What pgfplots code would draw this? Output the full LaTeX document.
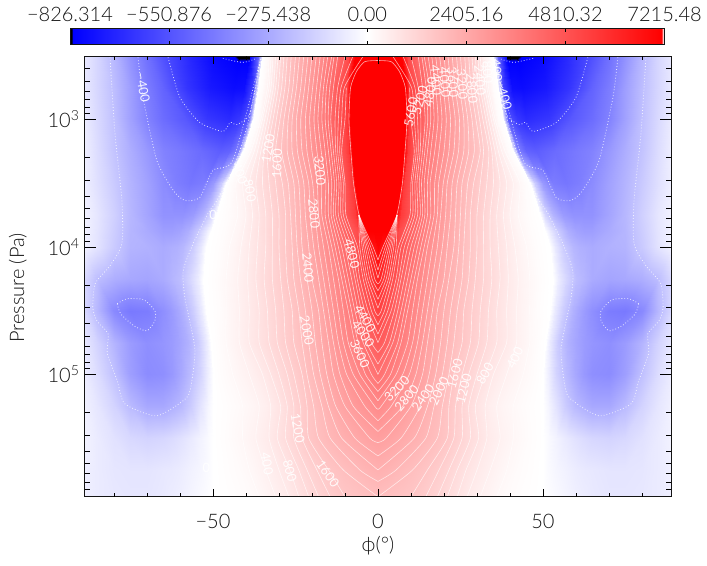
\documentclass[border=0pt]{standalone}
\usepackage{fontspec}
\setmainfont{Lato}[UprightFont=* Light]
\newfontfamily\lbf{Lato}
\usepackage{pgfplots}
\usepackage{pgfplotstable}
\pgfplotsset{compat=1.18}
\definecolor{axc}{gray}{0.08}
\pgfplotstableread[row sep=crcr]{
x p v\\
0 320 7140\\3 320 7140\\7 320 7140\\9 320 5000\\10 320 4700\\12 320 4100\\15 320 3600\\18 320 3100\\21 320 2630\\24 320 2170\\27 320 1680\\30 320 1100\\30.25 320 960\\30.5 320 900\\30.75 320 850\\31 320 800\\33.5 320 150\\35 320 0\\36.5 320 -500\\39 320 -826\\42 320 -826\\49.7 320 -790\\57.3 320 -690\\65 320 -560\\70 320 -460\\75 320 -350\\80 320 -230\\85 320 -130\\89 320 -70\\
0 562 7140\\4 562 7140\\8.5 562 7140\\9.5 562 5500\\10 562 5300\\12 562 4700\\15 562 3950\\18 562 3300\\21 562 2800\\24 562 2320\\27 562 1800\\30 562 1250\\30.6 562 1080\\31.25 562 930\\31.9 562 750\\32.5 562 570\\35 562 100\\36.5 562 0\\38 562 -600\\40.5 562 -770\\43.5 562 -780\\50.8 562 -740\\57.9 562 -650\\65 562 -500\\70 562 -420\\75 562 -310\\80 562 -210\\85 562 -130\\89 562 -70\\
0 1000 7140\\4 1000 7140\\8.5 1000 7140\\9.5 1000 5500\\10 1000 5300\\12 1000 4800\\15 1000 4020\\18 1000 3420\\21 1000 2960\\24 1000 2500\\27 1000 2030\\30 1000 1545\\31 1000 1370\\32 1000 1150\\33 1000 925\\34 1000 680\\36.5 1000 100\\38 1000 0\\39.5 1000 -540\\42 1000 -640\\45 1000 -680\\51.7 1000 -640\\58.3 1000 -540\\65 1000 -470\\70 1000 -400\\75 1000 -300\\80 1000 -200\\85 1000 -120\\89 1000 -60\\
0 1778 7140\\4 1778 7140\\8 1778 7140\\9 1778 5500\\10 1778 5100\\12 1778 4500\\15 1778 3800\\18 1778 3270\\21 1778 2870\\24 1778 2460\\27 1778 2060\\30 1778 1710\\31.75 1778 1440\\33.5 1778 1225\\35.25 1778 850\\37 1778 500\\39.5 1778 120\\41 1778 0\\42.5 1778 -400\\45 1778 -500\\48 1778 -520\\53.7 1778 -475\\59.3 1778 -435\\65 1778 -400\\70 1778 -330\\75 1778 -260\\80 1778 -190\\85 1778 -110\\89 1778 -50\\
0 3162 7140\\3.5 3162 7140\\7 3162 7140\\8 3162 5500\\10 3162 4800\\12 3162 4340\\15 3162 3600\\18 3162 3060\\21 3162 2600\\24 3162 2200\\27 3162 1820\\30 3162 1500\\33 3162 1200\\36 3162 900\\39 3162 600\\42 3162 300\\44.5 3162 100\\46 3162 0\\47.5 3162 -170\\50 3162 -330\\53 3162 -420\\57 3162 -440\\61 3162 -415\\65 3162 -370\\70 3162 -300\\75 3162 -240\\80 3162 -170\\85 3162 -100\\89 3162 -50\\
0 5623 7140\\2.5 5623 7140\\5.5 5623 7140\\7 5623 5500\\10 5623 4700\\12 5623 4300\\15 5623 3600\\18 5623 3000\\21 5623 2530\\24 5623 2130\\27 5623 1730\\30 5623 1400\\33.75 5623 1025\\37.5 5623 650\\41.25 5623 300\\45 5623 110\\47.5 5623 30\\49 5623 0\\50.5 5623 -130\\53 5623 -240\\56 5623 -320\\59 5623 -350\\62 5623 -350\\65 5623 -350\\70 5623 -290\\75 5623 -230\\80 5623 -150\\85 5623 -80\\89 5623 -40\\
0 7499 7140\\1.5 7499 7140\\3.5 7499 7140\\6.5 7499 5000\\10 7499 4400\\12 7499 4000\\15 7499 3400\\18 7499 2900\\21 7499 2465\\24 7499 2100\\27 7499 1715\\30 7499 1400\\34.1 7499 1000\\38.25 7499 650\\42.4 7499 290\\46.5 7499 100\\49 7499 25\\50.5 7499 0\\52 7499 -70\\54.5 7499 -170\\57.5 7499 -260\\60 7499 -295\\62.5 7499 -310\\65 7499 -310\\70 7499 -270\\75 7499 -235\\80 7499 -160\\85 7499 -85\\89 7499 -40\\
0 10000 7000\\1 10000 6700\\3 10000 6120\\6 10000 5060\\10 10000 4200\\12 10000 3800\\15 10000 3200\\18 10000 2800\\21 10000 2400\\24 10000 2070\\27 10000 1700\\30 10000 1400\\34.5 10000 950\\39 10000 600\\43.5 10000 270\\48 10000 80\\50.5 10000 15\\52 10000 0\\53.5 10000 -70\\56 10000 -160\\59 10000 -230\\61 10000 -250\\63 10000 -260\\65 10000 -270\\70 10000 -250\\75 10000 -240\\80 10000 -170\\85 10000 -90\\89 10000 -40\\
0 17783 6200\\3 17783 5340\\6 17783 4680\\8 17783 4200\\10 17783 3800\\12 17783 3400\\15 17783 3000\\18 17783 2600\\21 17783 2270\\24 17783 1950\\27 17783 1650\\30 17783 1360\\34.75 17783 980\\39.5 17783 600\\44.25 17783 290\\49 17783 80\\51.5 17783 15\\53 17783 0\\54.5 17783 -60\\57 17783 -130\\60 17783 -210\\61.7 17783 -230\\63.3 17783 -250\\65 17783 -270\\70 17783 -290\\75 17783 -280\\80 17783 -260\\85 17783 -210\\89 17783 -120\\
0 31623 5350\\3 31623 4800\\6 31623 4200\\8 31623 3800\\10 31623 3470\\12 31623 3200\\15 31623 2800\\18 31623 2400\\21 31623 2100\\24 31623 1800\\27 31623 1520\\30 31623 1280\\34.5 31623 920\\39 31623 600\\43.5 31623 320\\48 31623 100\\50.5 31623 20\\52 31623 0\\53.5 31623 -70\\56 31623 -160\\59 31623 -250\\61 31623 -290\\63 31623 -330\\65 31623 -360\\70 31623 -420\\75 31623 -430\\80 31623 -380\\85 31623 -230\\89 31623 -120\\
0 56234 4600\\3 56234 4270\\6 56234 3800\\8 56234 3490\\10 56234 3270\\12 56234 3000\\15 56234 2600\\18 56234 2300\\21 56234 2000\\24 56234 1720\\27 56234 1480\\30 56234 1240\\34.1 56234 930\\38.25 56234 660\\42.4 56234 380\\46.5 56234 170\\49 56234 50\\50.5 56234 0\\52 56234 -70\\54.5 56234 -170\\57.5 56234 -250\\60 56234 -290\\62.5 56234 -320\\65 56234 -340\\70 56234 -360\\75 56234 -320\\80 56234 -240\\85 56234 -140\\89 56234 -70\\
0 100000 4000\\3 100000 3690\\6 100000 3350\\8 100000 3150\\10 100000 2950\\12 100000 2750\\15 100000 2450\\18 100000 2150\\21 100000 1850\\24 100000 1520\\27 100000 1250\\30 100000 1000\\34 100000 680\\38 100000 450\\42 100000 280\\46 100000 130\\48.5 100000 50\\50 100000 0\\51.5 100000 -50\\54 100000 -140\\57 100000 -220\\59.7 100000 -280\\62.3 100000 -330\\65 100000 -360\\70 100000 -370\\75 100000 -310\\80 100000 -200\\85 100000 -110\\89 100000 -60\\
0 177828 3260\\3 177828 3070\\6 177828 2890\\8 177828 2760\\10 177828 2600\\12 177828 2460\\15 177828 2200\\18 177828 1920\\21 177828 1650\\24 177828 1350\\27 177828 1050\\30 177828 760\\34 177828 460\\38 177828 280\\42 177828 150\\46 177828 60\\48.5 177828 20\\50 177828 0\\51.5 177828 -30\\54 177828 -90\\57 177828 -170\\59.7 177828 -225\\62.3 177828 -255\\65 177828 -280\\70 177828 -280\\75 177828 -220\\80 177828 -140\\85 177828 -80\\89 177828 -45\\
0 316228 2680\\3 316228 2580\\6 316228 2440\\8 316228 2350\\10 316228 2250\\12 316228 2140\\15 316228 1970\\18 316228 1800\\21 316228 1600\\24 316228 1320\\27 316228 1080\\30 316228 840\\34 316228 550\\38 316228 360\\42 316228 200\\46 316228 80\\48.5 316228 30\\50 316228 0\\51.5 316228 -15\\54 316228 -40\\57 316228 -70\\59.7 316228 -95\\62.3 316228 -115\\65 316228 -130\\70 316228 -140\\75 316228 -125\\80 316228 -95\\85 316228 -65\\89 316228 -40\\
0 562341 2200\\3 562341 2110\\6 562341 1980\\8 562341 1900\\10 562341 1820\\12 562341 1730\\15 562341 1600\\18 562341 1430\\21 562341 1230\\24 562341 1000\\27 562341 780\\30 562341 600\\34 562341 410\\38 562341 240\\42 562341 120\\46 562341 55\\48.5 562341 15\\50 562341 0\\51.5 562341 -15\\54 562341 -30\\57 562341 -45\\59.7 562341 -60\\62.3 562341 -70\\65 562341 -75\\70 562341 -85\\75 562341 -85\\80 562341 -80\\85 562341 -65\\89 562341 -50\\
0 912000 1800\\3 912000 1740\\6 912000 1680\\8 912000 1640\\10 912000 1600\\12 912000 1510\\15 912000 1370\\18 912000 1200\\21 912000 1000\\24 912000 800\\27 912000 600\\30 912000 450\\34 912000 290\\38 912000 150\\42 912000 80\\46 912000 30\\48.5 912000 8\\50 912000 0\\51.5 912000 -8\\54 912000 -20\\57 912000 -35\\59.7 912000 -50\\62.3 912000 -60\\65 912000 -70\\70 912000 -80\\75 912000 -80\\80 912000 -75\\85 912000 -65\\89 912000 -50\\
}\field
\pgfplotsset{
  colormap={bwr}{rgb255(0pt)=(0,0,0); rgb255(1pt)=(0,0,0); rgb255(2pt)=(0,0,255); rgb255(200pt)=(255,255,255); rgb255(398pt)=(255,0,0); rgb255(399pt)=(255,255,255); rgb255(400pt)=(255,255,255)},
  cline/.style={white,opacity=0.65,line width=0.45pt,line join=round,smooth,tension=0.35,forget plot},
  dline/.style={white,opacity=0.8,line width=0.6pt,dash pattern=on 0.6pt off 1.6pt,smooth,tension=0.4,forget plot},
}
\newcommand\cl[1]{\addplot[cline] coordinates {#1};\addplot[cline,x filter/.code={\pgfmathparse{-##1}}] coordinates {#1};}
\newcommand\dl[1]{\addplot[dline] coordinates {#1};\addplot[dline,x filter/.code={\pgfmathparse{-##1}}] coordinates {#1};}
\tikzset{lb/.style={white,opacity=0.9,font=\lbf\fontsize{9.6}{10}\selectfont,inner sep=0pt}}
\begin{document}
\begin{tikzpicture}[x=0.75pt,y=0.75pt]
\path[use as bounding box] (0,0) rectangle (707,565);
\begin{axis}[
  at={(63.2pt,51.2pt)},anchor=south west,scale only axis,
  width=440.55pt,height=330.3pt,
  xmin=-89,xmax=89,ymin=320,ymax=912000,
  ymode=log,y dir=reverse,
  axis on top,
  axis line style={axc,line width=1pt},
  tick style={black,line width=0.6pt},
  tick align=inside,
  xtick=\empty,
  ytick={1000,10000,100000},
  yticklabels={10\textsuperscript{3},10\textsuperscript{4},10\textsuperscript{5}},
  minor ytick={400,500,600,700,800,900,2000,3000,4000,5000,6000,7000,8000,9000,20000,30000,40000,50000,60000,70000,80000,90000,200000,300000,400000,500000,600000,700000,800000,900000},
  ytick pos=both,yticklabel pos=left,
  major tick length=9pt,minor tick length=4.5pt,
  tick label style={font=\fontsize{15}{16}\selectfont,text=axc},
  ylabel={Pressure (Pa)},
  ylabel style={font=\fontsize{15}{16}\selectfont,text=axc,at={(axis description cs:-0.113,0.474)},anchor=center},
  point meta min=-1,point meta max=1,
  colormap name=bwr,
  colorbar horizontal,
  colorbar style={
    at={(-0.0243,1.0263)},anchor=south west,
    scale only axis,width=445.95pt,height=12.5pt,
    xtick={-1,-0.66667,-0.33333,0,0.33333,0.66667,1},
    xticklabels={−826.314,−550.876,−275.438,0.00,2405.16,4810.32,7215.48},
    minor x tick num=1,
    xtick pos=both,xticklabel pos=upper,
    tick align=inside,
    major tick length=2.6pt,minor tick length=1.6pt,
    axis line style={axc,line width=0.6pt},
    tick style={black,line width=0.5pt},
    tick label style={font=\fontsize{15}{16}\selectfont,text=axc},
    xticklabel style={yshift=1.2pt},
  },
]
\addplot[surf,shader=interp,mesh/cols=29,forget plot,
  point meta={\thisrow{v}<0 ? \thisrow{v}/826.314 : \thisrow{v}/7215.48}]
  table[x=x,y=p]{\field};
\addplot[surf,shader=interp,mesh/cols=29,forget plot,
  point meta={\thisrow{v}<0 ? \thisrow{v}/826.314 : \thisrow{v}/7215.48}]
  table[x expr=-\thisrow{x},y=p]{\field};
% red contours, every 200
\cl{(33,320)(33.5,562)(35.5,1000)(38.5,1778)(43,3162)(42.5,5623)(45,10000)(46,17783)(46,31623)(46,56234)(44,100000)(41,177828)(41,316228)(39,562341)(36,912000)}
\cl{(32.4,320)(33,562)(35,1000)(37.5,1778)(41,3162)(40,5623)(41.5,10000)(42.5,17783)(42,31623)(42,56234)(39,100000)(36,177828)(37,316228)(34,562341)(31,912000)}
\cl{(31.8,320)(32.4,562)(34.3,1000)(36.5,1778)(39,3162)(38,5623)(39,10000)(39.5,17783)(39,31623)(39,56234)(35,100000)(32.5,177828)(33,316228)(30,562341)(27,912000)}
\cl{(31,320)(31.7,562)(33.5,1000)(35.5,1778)(37,3162)(36,5623)(36.5,10000)(37,17783)(36,31623)(36,56234)(32.5,100000)(29.5,177828)(30.5,316228)(26.7,562341)(24,912000)}
\cl{(30.3,320)(31,562)(32.7,1000)(34.5,1778)(35,3162)(34,5623)(34,10000)(34.5,17783)(33.5,31623)(33,56234)(30,100000)(27.5,177828)(28,316228)(24,562341)(21,912000)}
\cl{(29.5,320)(30.2,562)(31.8,1000)(33.6,1778)(33,3162)(32,5623)(32,10000)(32,17783)(31,31623)(30.5,56234)(27.5,100000)(25.5,177828)(25.5,316228)(21.5,562341)(18,912000)}
\cl{(28.5,320)(29.2,562)(30.8,1000)(32,1778)(31,3162)(30,5623)(30,10000)(29.5,17783)(28.5,31623)(28,56234)(25.5,100000)(23.5,177828)(23,316228)(18.5,562341)(14.5,912000)}
\cl{(27.5,320)(28.2,562)(29.7,1000)(31,1778)(29,3162)(28,5623)(28,10000)(27.5,17783)(26,31623)(25.5,56234)(23,100000)(21.5,177828)(21,316228)(15,562341)(10,912000)}
\cl{(26.3,320)(27,562)(28.5,1000)(29.2,1778)(27.2,3162)(26.5,5623)(26,10000)(25.5,17783)(24,31623)(23,56234)(21.5,100000)(19.5,177828)(18,316228)(10.5,562341)(0,912000)}
\cl{(25,320)(25.8,562)(27.2,1000)(27.5,1778)(25.5,3162)(25,5623)(24.5,10000)(23.5,17783)(22,31623)(21,56234)(19.5,100000)(17,177828)(14.5,316228)(5.5,562341)(0,691831)}
\cl{(23.8,320)(24.7,562)(26,1000)(26,1778)(24,3162)(23.5,5623)(23,10000)(21.5,17783)(20,31623)(19,56234)(17.5,100000)(15,177828)(11,316228)(0,562341)}
\cl{(22.5,320)(23.4,562)(24.7,1000)(24.4,1778)(22.5,3162)(22,5623)(21,10000)(20,17783)(18,31623)(17,56234)(15.5,100000)(12.8,177828)(7,316228)(0,436516)}
\cl{(21.2,320)(22.2,562)(23.4,1000)(23,1778)(21,3162)(20.5,5623)(19.5,10000)(18,17783)(16.5,31623)(15,56234)(13.5,100000)(10,177828)(2.5,316228)(0,342768)}
\cl{(20,320)(21,562)(22,1000)(21.5,1778)(19.8,3162)(19,5623)(18,10000)(16.5,17783)(15,31623)(13.5,56234)(11.5,100000)(7.5,177828)(0,280543)}
\cl{(18.7,320)(19.8,562)(20.7,1000)(20,1778)(18.4,3162)(18,5623)(16.5,10000)(15,17783)(13.5,31623)(12,56234)(9.5,100000)(4,177828)(0,231206)}
\cl{(17.5,320)(18.6,562)(19.4,1000)(18.5,1778)(17.2,3162)(17,5623)(15,10000)(13.5,17783)(12,31623)(10.5,56234)(7.5,100000)(1,177828)(0,187499)}
\cl{(16.3,320)(17.5,562)(18.2,1000)(17.2,1778)(15.8,3162)(16,5623)(14,10000)(12,17783)(10.5,31623)(9,56234)(5.5,100000)(0,161065)}
\cl{(15.2,320)(16.5,562)(17,1000)(16,1778)(15,3162)(15,5623)(13,10000)(11,17783)(9,31623)(7,56234)(3.8,100000)(0,136144)}
\cl{(14,320)(15.6,562)(16,1000)(15,1778)(14,3162)(14.2,5623)(12,10000)(10,17783)(8,31623)(6,56234)(2,100000)(0,117761)}
\cl{(13.3,320)(14.6,562)(15.1,1000)(14.2,1778)(13.2,3162)(13.5,5623)(11,10000)(9,17783)(7,31623)(4.5,56234)(0,100000)}
\cl{(12.2,320)(13.5,562)(14.3,1000)(13.5,1778)(12.5,3162)(12.8,5623)(10,10000)(8,17783)(6,31623)(3.5,56234)(0,82985)}
\cl{(10,320)(12.2,562)(13,1000)(12.8,1778)(11.8,3162)(12,5623)(9,10000)(7,17783)(5,31623)(2,56234)(0,67298)}
\cl{(7.6,320)(11.2,562)(12,1000)(12.2,1778)(11.2,3162)(11.2,5623)(8,10000)(6.3,17783)(4,31623)(0,56234)}
\cl{(4.5,320)(10.2,562)(11,1000)(11.6,1778)(10.5,3162)(10.5,5623)(7,10000)(5.5,17783)(3,31623)(0,48306)}
\cl{(9.6,562)(10,1000)(11,1778)(10,3162)(9.7,5623)(6.2,10000)(4.5,17783)(2,31623)(0,40738)}
\cl{(5.8,5623)(5.5,10000)(3.8,17783)(1,31623)(0,34674)}
\cl{(5.8,5623)(4.8,10000)(3.2,17783)(0,30200)}
\cl{(5.8,5623)(4.3,10000)(2.5,17783)(0,25763)}
\cl{(5.8,5623)(3.8,10000)(1.8,17783)(0,22029)}
\cl{(5.8,5623)(3.3,10000)(1,17783)(0,19543)}
\cl{(5.8,5623)(2.8,10000)(0,17539)}
\cl{(5.8,5623)(2.2,10000)(0,15171)}
\cl{(0,345)(4,352)(6.5,420)(8.3,562)(8.8,1000)(8.2,1778)(7.4,3162)(5.7,5623)(1.5,10000)(0,12647)}
% zero and negative contours (dotted)
\dl{(35,320)(36.5,562)(38,1000)(41,1778)(46,3162)(49,5623)(52,10000)(53,17783)(52,31623)(50.5,56234)(50,100000)(50,316228)(50,912000)}
\dl{(81.2,326)(79.7,1288)(77.6,4325)(77.6,9419)(81.2,14030)(85.7,19409)(86.4,29992)(85.2,37931)(81.8,47973)(82,68865)(79,112202)(76.7,170216)(67,211349)(58,152757)(56.4,112202)(55.5,61802)(58.5,25003)(59,15346)(56,9419)(51.5,5470)(48.8,4325)(44,2512)(40,1219)(37,541)(35.5,332)}
\dl{(72.7,326)(71.2,672)(67,2100)(62,3614)(58.5,4325)(54,4102)(50,2512)(44,2100)(37,468)(35.5,332)}
\dl{(63.6,326)(60,672)(54,1056)(47,1243)(44.8,1056)(42.7,1095)(38.8,897)(35.8,363)}
\dl{(47,332)(41,357)(36.7,332)}
\dl{(79,27861)(76,25468)(71,25942)(67.6,31623)(67.6,37931)(70,45499)(74,41495)(78,33420)(79,27861)}
% labels, left
\node[lb,rotate=-80] at (axis cs:-71.2,562) {−400};
\node[lb,rotate=-80] at (axis cs:-38.8,3614) {800};
\node[lb,rotate=-70] at (axis cs:-41.8,2655) {400};
\node[lb,rotate=80] at (axis cs:-33.3,1692) {1200};
\node[lb,rotate=88] at (axis cs:-30.6,2218) {1600};
\node[lb,rotate=-85] at (axis cs:-17.6,2512) {3200};
\node[lb,rotate=-85] at (axis cs:-19.4,5470) {2800};
\node[lb,rotate=-85] at (axis cs:-21.2,14555) {2400};
\node[lb,rotate=-80] at (axis cs:-21.5,45499) {2000};
\node[lb,rotate=-75] at (axis cs:-7.9,11298) {4800};
\node[lb,rotate=-60] at (axis cs:-3.9,36559) {4400};
\node[lb,rotate=-55] at (axis cs:-4.5,47973) {4000};
\node[lb,rotate=-65] at (axis cs:-5.5,68865) {3600};
\node[lb] at (axis cs:-50,5572) {0};
\node[lb] at (axis cs:-52,542000) {0};
\node[lb,rotate=-80] at (axis cs:-33.6,503500) {400};
\node[lb,rotate=-75] at (axis cs:-26.7,571500) {800};
\node[lb,rotate=-80] at (axis cs:-24.3,263000) {1200};
\node[lb,rotate=-55] at (axis cs:-15.2,602600) {1600};
% labels, right
\node[lb,rotate=45] at (axis cs:5.7,129700) {3200};
\node[lb,rotate=50] at (axis cs:8.7,152757) {2800};
\node[lb,rotate=55] at (axis cs:13.7,152757) {2400};
\node[lb,rotate=65] at (axis cs:18.5,134600) {2000};
\node[lb,rotate=75] at (axis cs:23.3,98900) {1600};
\node[lb,rotate=75] at (axis cs:26,129700) {1200};
\node[lb,rotate=60] at (axis cs:32.4,98900) {800};
\node[lb,rotate=65] at (axis cs:41.5,74131) {400};
\node[lb] at (axis cs:50.3,57544) {0};
\node[lb,rotate=80] at (axis cs:10,881) {5600};
\node[lb,rotate=75] at (axis cs:12.7,709) {5200};
\node[lb,rotate=80] at (axis cs:15.8,614) {4800};
\node[lb,rotate=-85] at (axis cs:17.6,494) {4400};
\node[lb,rotate=-85] at (axis cs:20.3,512) {4000};
\node[lb,rotate=-85] at (axis cs:22.7,512) {3600};
\node[lb,rotate=-85] at (axis cs:25.5,531) {3200};
\node[lb,rotate=-85] at (axis cs:28.5,570) {2800};
\node[lb,rotate=-85] at (axis cs:30.9,494) {2400};
\node[lb,rotate=-85] at (axis cs:33.3,428) {800};
\node[lb,rotate=-85] at (axis cs:36,412) {400};
\node[lb,rotate=-75] at (axis cs:38.2,647) {−400};
\end{axis}
\begin{axis}[
  at={(63.2pt,51.2pt)},anchor=south west,scale only axis,
  width=440.55pt,height=330.3pt,
  xmin=-89,xmax=89,ymin=0,ymax=1,
  axis line style={draw=none},
  tick style={black,line width=0.6pt},
  tick align=inside,
  ytick=\empty,
  xtick={-50,0,50},
  xticklabels={−50,0,50},
  minor xtick={-80,-70,-60,-40,-30,-20,-10,10,20,30,40,60,70,80},
  xtick pos=both,xticklabel pos=lower,
  major tick length=6pt,minor tick length=3pt,
  tick label style={font=\fontsize{15}{16}\selectfont,text=axc},
  xticklabel style={yshift=-9.5pt},
  xlabel={ϕ(°)},
  xlabel style={font=\fontsize{15}{16}\selectfont,text=axc,at={(axis description cs:0.5,-0.110)},anchor=center},
]
\end{axis}
\end{tikzpicture}
\end{document}
